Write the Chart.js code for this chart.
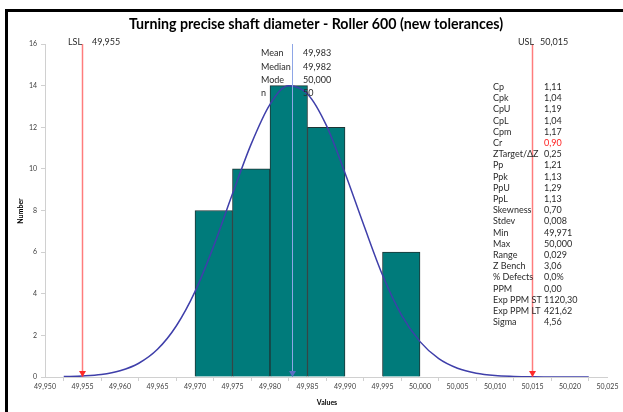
<!DOCTYPE html>
<html>
<head>
<meta charset="utf-8">
<script src="https://cdn.jsdelivr.net/npm/chart.js@4.4.1/dist/chart.umd.min.js"></script>
<style>
  html, body { margin: 0; padding: 0; background: #fff; }
  #wrap { position: relative; width: 623px; height: 412px; }
</style>
</head>
<body>
<div id="wrap"><canvas id="mycanvas" width="623" height="412"></canvas></div>
<script>
// histogram bins (center of each 0,005 class) and counts
const binCenters = [49.9725, 49.9775, 49.9825, 49.9875, 49.9925, 49.9975];
const binCounts = [8, 10, 14, 12, 0, 6];

// fitted curve
const curveX = [49.9525, 49.955, 49.9575, 49.96, 49.9625, 49.965, 49.9675, 49.97, 49.9725, 49.975,
    49.9775, 49.98, 49.9825, 49.985, 49.9875, 49.99, 49.9925, 49.995, 49.9975, 50.0,
    50.0025, 50.005, 50.0075, 50.01, 50.0125, 50.015, 50.0175, 50.02, 50.0225];
const curveY = [0.02, 0.05, 0.12, 0.3, 0.66, 1.33, 2.45, 4.1, 6.3, 8.8,
    11.2, 13.1, 14.0, 13.6, 12.1, 9.8, 7.3, 4.9, 3.0, 1.7,
    0.88, 0.42, 0.18, 0.07, 0.03, 0.01, 0.0, 0.0, 0.0];

const xTicks = [49.950, 49.955, 49.960, 49.965, 49.970, 49.975, 49.980, 49.985,
    49.990, 49.995, 50.000, 50.005, 50.010, 50.015, 50.020, 50.025];
const yTicks = [0, 2, 4, 6, 8, 10, 12, 14, 16];

const lsl = 49.955;
const usl = 50.015;
const mean = 49.983;

const centerNames = ['Mean', 'Median', 'Mode', 'n'];
const centerValues = ['49,983', '49,982', '50,000', '50'];

const statNames = ['Cp', 'Cpk', 'CpU', 'CpL', 'Cpm', 'Cr', 'ZTarget/\u0394Z', 'Pp', 'Ppk', 'PpU', 'PpL',
    'Skewness', 'Stdev', 'Min', 'Max', 'Range', 'Z Bench', '% Defects', 'PPM',
    'Exp PPM ST', 'Exp PPM LT', 'Sigma'];
const statValues = ['1,11', '1,04', '1,19', '1,04', '1,17', '0,90', '0,25', '1,21', '1,13', '1,29', '1,13',
    '0,70', '0,008', '49,971', '50,000', '0,029', '3,06', '0,0%', '0,00',
    '1120,30', '421,62', '4,56'];

const FONT = 'Lato, "Open Sans", sans-serif';
const fmt = v => v.toFixed(3).replace('.', ',');

function vline(xv, color, width) {
    return {
        type: 'line',
        data: [{ x: xv, y: 16 }, { x: xv, y: 0 }],
        borderColor: color,
        borderWidth: width,
        pointRadius: 0,
        order: 0
    };
}

const overlay = {
    id: 'overlay',
    afterDatasetsDraw(chart) {
        const ctx = chart.ctx;
        const x = chart.scales.x;
        const y = chart.scales.y;
        const y0 = y.getPixelForValue(0);

        // arrow heads at the bottom of the reference lines
        function arrow(xv, color) {
            const px = x.getPixelForValue(xv);
            ctx.fillStyle = color;
            ctx.beginPath();
            ctx.moveTo(px - 3.5, y0 - 6);
            ctx.lineTo(px + 3.5, y0 - 6);
            ctx.lineTo(px, y0);
            ctx.closePath();
            ctx.fill();
        }
        arrow(lsl, '#ff2a2a');
        arrow(usl, '#ff2a2a');
        arrow(mean, '#5b6fc4');

        ctx.save();
        ctx.textBaseline = 'middle';
        ctx.fillStyle = '#000';

        ctx.font = 'bold 14.2px ' + FONT;
        ctx.textAlign = 'center';
        ctx.fillText('Turning precise shaft diameter - Roller 600 (new tolerances)', 316, 24);

        ctx.font = '9px ' + FONT;
        ctx.textAlign = 'left';
        ctx.fillStyle = '#2a2a2a';
        ctx.fillText('LSL', 68, 42);
        ctx.fillText(fmt(lsl), 92, 42);
        ctx.fillText('USL', 518, 42);
        ctx.fillText(fmt(usl), 540, 42);

        centerNames.forEach((n, i) => {
            ctx.fillText(n, 261, 53.5 + i * 13.3);
            ctx.fillText(centerValues[i], 303, 53.5 + i * 13.3);
        });

        statNames.forEach((n, i) => {
            const ty = 87 + i * 11.2;
            ctx.fillStyle = '#2a2a2a';
            ctx.fillText(n, 493, ty);
            ctx.fillStyle = n === 'Cr' ? '#ff2020' : '#2a2a2a';
            ctx.fillText(statValues[i], 544, ty);
        });

        // axis titles
        ctx.fillStyle = '#000';
        ctx.font = 'bold 7px ' + FONT;
        ctx.textAlign = 'center';
        ctx.fillText('Values', 327, 403);
        ctx.translate(21, 211);
        ctx.rotate(-Math.PI / 2);
        ctx.fillText('Number', 0, 0);
        ctx.restore();

        // frame
        ctx.fillStyle = '#000';
        ctx.fillRect(5, 9, 618, 3);
        ctx.fillRect(5, 9, 3, 403);
    }
};

const chart = new Chart(document.getElementById('mycanvas'), {
    type: 'bar',
    data: {
        datasets: [
            vline(lsl, 'rgba(255,80,80,0.75)', 1.5),
            vline(usl, 'rgba(255,80,80,0.75)', 1.5),
            vline(mean, '#8ea6e6', 1),
            {
                type: 'line',
                data: curveX.map((v, i) => ({ x: v, y: curveY[i] })),
                borderColor: '#3f3faa',
                borderWidth: 1.5,
                pointRadius: 0,
                cubicInterpolationMode: 'monotone',
                order: 1
            },
            {
                type: 'bar',
                data: binCenters.map((v, i) => ({ x: v, y: binCounts[i] })),
                backgroundColor: '#007b7b',
                borderColor: '#1e3434',
                borderWidth: 1,
                barPercentage: 1,
                categoryPercentage: 1,
                order: 5
            }
        ]
    },
    options: {
        responsive: false,
        devicePixelRatio: 1,
        animation: false,
        layout: { padding: { top: 44, right: 15.5, left: 0, bottom: 0 } },
        plugins: { legend: { display: false }, tooltip: { enabled: false }, title: { display: false } },
        scales: {
            x: {
                type: 'linear',
                offset: false,
                min: xTicks[0],
                max: xTicks[xTicks.length - 1],
                afterBuildTicks: s => { s.ticks = xTicks.map(v => ({ value: v })); },
                afterFit: s => { s.height = 35; },
                grid: { drawOnChartArea: false, tickLength: 4, color: '#d0d0d0' },
                border: { color: '#d0d0d0' },
                ticks: {
                    maxRotation: 0,
                    autoSkip: false,
                    padding: 2,
                    color: '#404040',
                    font: { family: FONT, size: 7 },
                    callback: v => fmt(v)
                }
            },
            y: {
                min: 0,
                max: 16,
                afterBuildTicks: s => { s.ticks = yTicks.map(v => ({ value: v })); },
                afterFit: s => { s.width = 45; },
                grid: { drawOnChartArea: false, tickLength: 4, color: '#d0d0d0' },
                border: { color: '#d0d0d0' },
                ticks: {
                    padding: 4,
                    color: '#404040',
                    font: { family: FONT, size: 7 }
                }
            }
        }
    },
    plugins: [overlay]
});
</script>
</body>
</html>
